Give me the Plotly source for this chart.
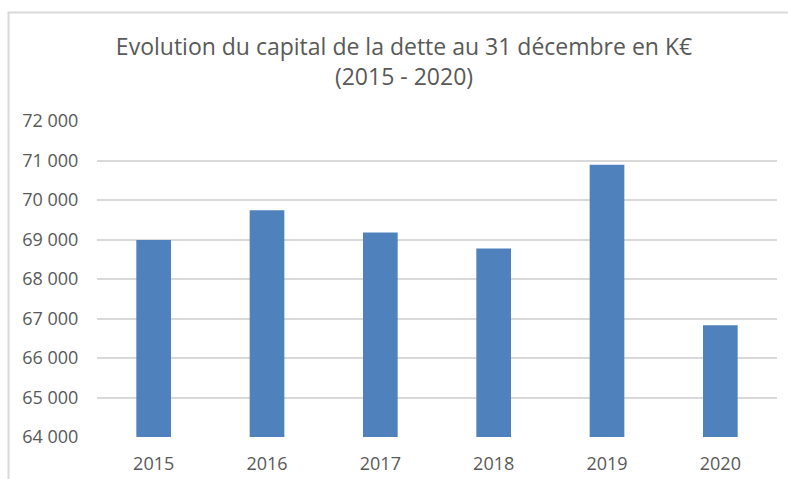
import plotly.graph_objects as go

years = ["2015", "2016", "2017", "2018", "2019", "2020"]
capital = [68990, 69740, 69180, 68770, 70890, 66830]
y_ticks = [64000, 65000, 66000, 67000, 68000, 69000, 70000, 71000, 72000]

title_line1 = "Evolution du capital de la dette au 31 décembre en K€"
title_line2 = "(2015 - 2020)"

W, H = 788, 479
ml, mr, mt, mb = 97, 11, 121, 42
pw, ph = W - ml - mr, H - mt - mb

def px_x(p):
    return (p - ml) / pw

def px_y(p):
    return (H - mb - p) / ph

fig = go.Figure()
fig.add_trace(go.Bar(
    x=years, y=capital,
    marker=dict(color="#4f81bd", line=dict(width=0)),
    hoverinfo="x+y",
))

fig.update_layout(
    width=W, height=H,
    autosize=False,
    margin=dict(l=ml, r=mr, t=mt, b=mb, autoexpand=False),
    paper_bgcolor="white", plot_bgcolor="white",
    separators=", ",
    bargap=0.694,
    showlegend=False,
    title=dict(
        text=title_line1 + "<br>" + title_line2,
        x=404 / W, xanchor="center",
        y=1 - 55 / H, yanchor="top",
        font=dict(family="Open Sans", size=23, color="#595959"),
    ),
    font=dict(family="Open Sans", color="#595959"),
    xaxis=dict(
        type="category",
        automargin=False,
        showgrid=False, showline=False, zeroline=False,
        ticks="outside", ticklen=10, tickcolor="rgba(0,0,0,0)",
        tickfont=dict(size=18, color="#595959"),
    ),
    yaxis=dict(
        range=[64000, 72000],
        automargin=False,
        tickvals=y_ticks,
        tickformat=",d",
        showgrid=True, gridcolor="#d9d9d9", gridwidth=1.5,
        zeroline=False, showline=False,
        ticks="outside", ticklen=14, tickcolor="rgba(0,0,0,0)",
        tickfont=dict(size=18, color="#595959"),
    ),
    shapes=[
        dict(type="line", xref="paper", yref="paper",
             x0=px_x(8.5), x1=px_x(8.5), y0=px_y(12.5), y1=px_y(495),
             line=dict(color="#d9d9d9", width=2)),
        dict(type="line", xref="paper", yref="paper",
             x0=px_x(7.5), x1=px_x(800), y0=px_y(12.5), y1=px_y(12.5),
             line=dict(color="#d9d9d9", width=2)),
    ],
)

fig.write_html(
    "out.html",
    config={"displayModeBar": False},
    post_script="document.body.style.margin='0';document.body.style.overflow='hidden';",
)
